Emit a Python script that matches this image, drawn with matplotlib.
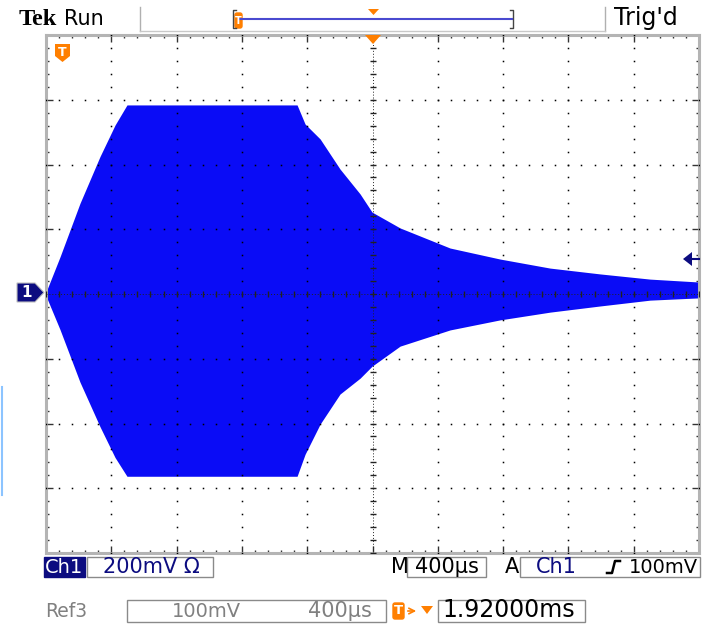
import matplotlib
matplotlib.use('Agg')
import matplotlib.pyplot as plt
import numpy as np
from matplotlib.patches import Polygon, Rectangle, FancyBboxPatch

# ---------------- data (envelope of the burst, 400 us/div, 200 mV/div) -------------
time_ms = [0.000, 0.086, 0.208, 0.331, 0.423, 0.496, 1.538, 1.587, 1.679, 1.801,
           1.924, 1.997, 2.169, 2.475, 2.781, 3.088, 3.394, 3.700, 4.000]
upper_v = [0.006, 0.115, 0.280, 0.425, 0.522, 0.584, 0.584, 0.525, 0.479, 0.386,
           0.309, 0.253, 0.204, 0.142, 0.108, 0.080, 0.062, 0.046, 0.037]
lower_v = [-0.006, -0.110, -0.272, -0.410, -0.505, -0.563, -0.563, -0.495, -0.402, -0.309,
           -0.260, -0.223, -0.161, -0.111, -0.080, -0.056, -0.037, -0.019, -0.012]

header_labels = ["Tek", "Run", "Trig'd"]
ch_label = "Ch1"
ch_scale = "200mV \u03a9"
time_scale = "400\u00b5s"
trig_level = "100mV"
ref_label = "Ref3"
ref_v = "100mV"
ref_t = "400\u00b5s"
trig_pos = "1.92000ms"

DIV_T = 0.4   # ms per division
DIV_V = 0.2   # V per division
N_X, N_Y = 10, 8

BLUE = '#0a0cf6'
NAVY = '#0c0c80'
ORANGE = '#ff7f00'

W, H = 706, 627
fig = plt.figure(figsize=(W / 100, H / 100), dpi=100)
fig.patch.set_facecolor('white')

# ---------------- main graticule axes -----------------
ax = fig.add_axes([46 / W, 1 - 553 / H, 653 / W, 518 / H])
ax.set_xlim(0, N_X * DIV_T)
ax.set_ylim(-N_Y / 2 * DIV_V, N_Y / 2 * DIV_V)
ax.set_facecolor('white')

ax.fill_between(time_ms, lower_v, upper_v, color=BLUE, lw=0, zorder=2)

# dotted grid
minor_t = np.arange(0, N_X * DIV_T + 1e-9, DIV_T / 5)
minor_v = np.arange(-N_Y / 2 * DIV_V, N_Y / 2 * DIV_V + 1e-9, DIV_V / 5)
for k in range(1, N_X):
    if k == N_X // 2:
        continue
    ax.plot(np.full_like(minor_v, k * DIV_T), minor_v, ls='', marker='s',
            ms=1.1, color='black', mew=0, zorder=3)
for k in range(1, N_Y):
    if k == N_Y // 2:
        continue
    v = -N_Y / 2 * DIV_V + k * DIV_V
    ax.plot(minor_t, np.full_like(minor_t, v), ls='', marker='s',
            ms=1.1, color='black', mew=0, zorder=3)

# center cross with ticks
tc = N_X / 2 * DIV_T
ax.axhline(0, color='#222222', lw=0.7, ls=(0, (1, 2)), zorder=3)
ax.axvline(tc, color='#222222', lw=0.7, ls=(0, (1, 2)), zorder=3)
ax.plot(minor_t, np.zeros_like(minor_t), ls='', marker='|', ms=4, mew=1.0,
        color='#222222', zorder=3)
ax.plot(np.full_like(minor_v, tc), minor_v, ls='', marker='_', ms=5, mew=1.0,
        color='#222222', zorder=3)

# frame
for s in ax.spines.values():
    s.set_color('#b4b4b4')
    s.set_linewidth(2.2)
ax.set_xticks(np.arange(0, N_X * DIV_T + 1e-9, DIV_T))
ax.set_yticks(np.arange(-N_Y / 2 * DIV_V, N_Y / 2 * DIV_V + 1e-9, DIV_V))
ax.set_xticks(minor_t, minor=True)
ax.set_yticks(minor_v, minor=True)
ax.tick_params(which='major', direction='in', length=5, width=1, color='#333333',
               top=True, right=True, labelbottom=False, labelleft=False)
ax.tick_params(which='minor', direction='in', length=2.5, width=1, color='#333333',
               top=True, right=True)

# ---------------- overlay in pixel coordinates -----------------
ov = fig.add_axes([0, 0, 1, 1], zorder=5)
ov.set_xlim(0, W)
ov.set_ylim(H, 0)
ov.axis('off')
ov.patch.set_alpha(0)

FS = 15

def txt(x, y, s, **kw):
    kw.setdefault('va', 'baseline')
    kw.setdefault('ha', 'left')
    kw.setdefault('fontsize', FS)
    kw.setdefault('family', 'DejaVu Sans')
    ov.text(x, y, s, **kw)

def box(x0, y0, x1, y1, ec='#8a8a8a', fc='white', lw=1.0):
    ov.add_patch(Rectangle((x0, y0), x1 - x0, y1 - y0, fc=fc, ec=ec, lw=lw))

# header
YH = 25
txt(19, YH, header_labels[0], fontsize=17.5, fontweight='bold', family='Liberation Serif')
txt(64, YH, header_labels[1])
ov.plot([140, 140], [7, 31], color='#b0b0b0', lw=1)
ov.plot([605, 605], [7, 31], color='#b0b0b0', lw=1)
ov.plot([140, 605], [31, 31], color='#c8c8c8', lw=1)
txt(614, YH, header_labels[2], fontsize=17)
# record window bracket
ov.plot([236, 233, 233, 236], [10, 10, 28, 28], color='#444444', lw=1)
ov.plot([510, 513, 513, 510], [10, 10, 28, 28], color='#444444', lw=1)
ov.plot([240, 512], [19, 19], color='#4a4ad0', lw=1.5)
ov.add_patch(FancyBboxPatch((235, 13), 7, 15, boxstyle='round,pad=0,rounding_size=2',
                            fc=ORANGE, ec=ORANGE))
txt(238.5, 20.5, 'T', fontsize=7, color='white', fontweight='bold', ha='center', va='center')
ov.add_patch(Polygon([[368, 9], [379, 9], [373.5, 15]], closed=True, fc=ORANGE, ec='none'))

# trigger position marker on graticule
ov.add_patch(Polygon([[365, 35], [381, 35], [373, 44]], closed=True, fc=ORANGE, ec='none'))
# T marker inside graticule
ov.add_patch(Polygon([[55, 44], [70, 44], [70, 56], [62.5, 62], [55, 56]], closed=True,
                     fc=ORANGE, ec='none'))
txt(62.5, 52, 'T', fontsize=9, color='white', fontweight='bold', ha='center', va='center')

# channel 1 ground marker
ov.add_patch(Polygon([[17, 283], [35, 283], [44, 292.5], [35, 302], [17, 302]], closed=True,
                     fc=NAVY, ec='#c0c0c0', lw=0.8))
txt(26.5, 292.5, '1', fontsize=11, color='white', fontweight='bold', ha='center', va='center')

# trigger level arrow at right
ov.add_patch(Polygon([[683, 259], [692, 252], [692, 266]], closed=True, fc=NAVY, ec='none'))
ov.plot([690, 699], [259, 259], color=NAVY, lw=1.5)

# faint light-blue bar at far left
ov.plot([1.5, 1.5], [387, 495], color='#8cc4ff', lw=1.5)

# bottom status line 1
YB = 573
ov.add_patch(Rectangle((44, 557), 41, 20, fc=NAVY, ec=NAVY))
txt(64.5, YB, ch_label, fontsize=14, color='white', ha='center')
box(87, 557, 213, 577)
txt(103, YB, ch_scale, color=NAVY)
txt(391, YB, 'M', color='black')
box(407, 557, 486, 577)
txt(447, YB, time_scale, color='black', ha='center')
txt(505, YB, 'A', color='black')
box(520, 557, 700, 577)
txt(536, YB, ch_label, color=NAVY)
ov.plot([607, 612, 615, 620], [573, 573, 561, 561], color='black', lw=1.8)
txt(698, YB, trig_level, color='black', ha='right', fontsize=14)

# bottom status line 2
YR = 617
txt(45, YR, ref_label, color='#808080', fontsize=13.5)
box(127, 600, 386, 622)
txt(241, YR, ref_v, color='#808080', ha='right', fontsize=14)
txt(372, YR, ref_t, color='#808080', ha='right')
ov.add_patch(FancyBboxPatch((393, 603), 11, 16, boxstyle='round,pad=0,rounding_size=2',
                            fc=ORANGE, ec=ORANGE))
txt(398.5, 611, 'T', fontsize=9.5, color='white', fontweight='bold', ha='center', va='center')
ov.annotate('', xy=(419, 611), xytext=(405, 611),
            arrowprops=dict(arrowstyle='->', color=ORANGE, lw=1.2))
ov.add_patch(Polygon([[421, 606], [433, 606], [427, 614]], closed=True, fc=ORANGE, ec='none'))
box(438, 600, 585, 622)
txt(442, YR, trig_pos, color='black', fontsize=17)

fig.savefig('out.png', dpi=100, facecolor='white')
